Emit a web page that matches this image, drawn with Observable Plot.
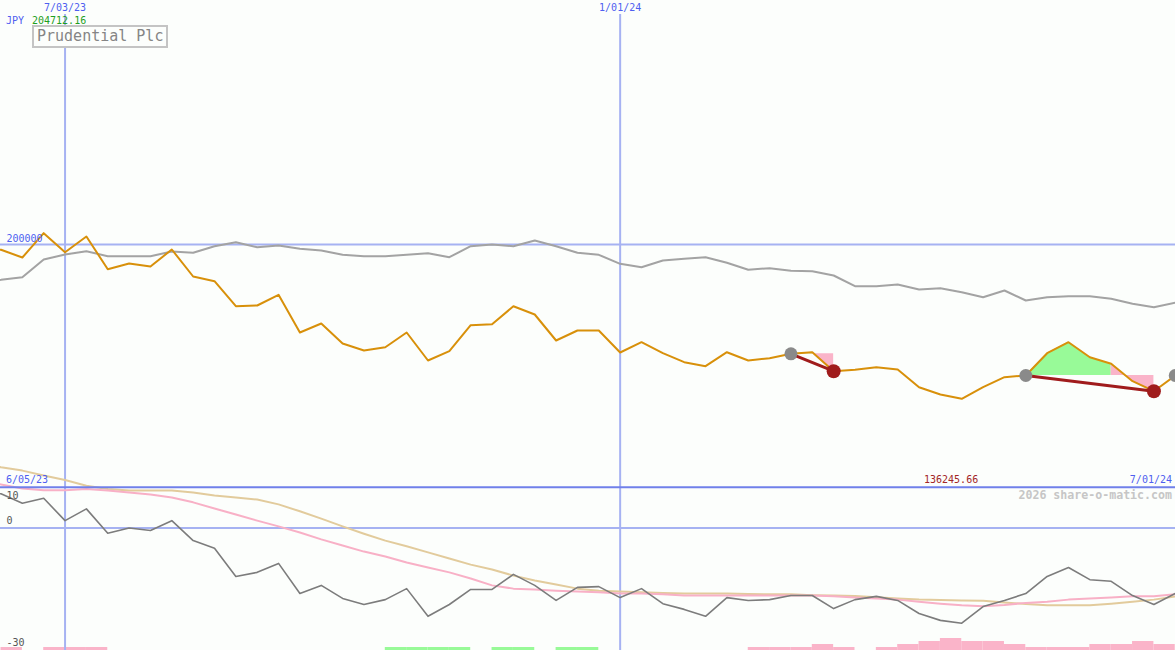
<!DOCTYPE html>
<html><head><meta charset="utf-8">
<script src="https://cdn.jsdelivr.net/npm/d3@7"></script>
<script src="https://cdn.jsdelivr.net/npm/@observablehq/plot@0.6"></script>
<style>
html,body{margin:0;padding:0;background:#fcfefc;}
#chart{position:relative;width:1175px;height:650px;overflow:hidden;background:#fcfefc;font-family:"DejaVu Sans Mono",monospace;}
#chart svg{position:absolute;left:0;top:0;overflow:hidden;}
.lbl{position:absolute;font-size:10px;line-height:12px;white-space:nowrap;}
</style></head><body><div id="chart"></div>
<script>
// ---- data (weekly, first week Monday 5 Jun 2023) ----
const firstWeek = "2023-06-05";
const price = [199207, 197843, 194659, 204712.16, 196850, 203341, 189823, 192179, 190939, 197967, 186805, 184862, 174527, 174816, 179240, 163654, 167375, 159107, 156213, 157577, 163654, 152079, 155924, 166672, 167086, 174527, 171096, 160347, 164481, 164481, 155386, 159644, 155097, 151376, 149723, 155510, 152079, 153030, 154849, 155510, 147656, 148235, 149309, 148359, 141041, 138024, 136245.66, 141041, 145175, 145878, 155097, 159644, 153443, 150715, 143522, 139388, 145878];
const compare = [184738, 185441, 186515, 193833, 195900, 197264, 195197, 195197, 195197, 197140, 196602, 199331, 200984, 198917, 199620, 198256, 197553, 195776, 195197, 195197, 195776, 196437, 194783, 199331, 200034, 199331, 201687, 199331, 196602, 195776, 192055, 190649, 193419, 194122, 194783, 192468, 189575, 190236, 189161, 188996, 187218, 182795, 182795, 183498, 181431, 181968, 180314, 178247, 181017, 176883, 178247, 178661, 178661, 177586, 175519, 174113, 175932];
const osc = [8.7, 8.4, 6.1, 7.3, 1.8, 4.7, -1.3, 0.0, -0.6, 1.8, -3.1, -5.0, -11.9, -10.9, -8.7, -16.1, -14.1, -17.3, -18.8, -17.6, -14.9, -21.7, -18.8, -15.1, -15.1, -11.4, -14.1, -17.8, -14.6, -14.4, -17.1, -14.9, -18.6, -20.0, -21.7, -17.1, -17.8, -17.6, -16.6, -16.6, -19.8, -17.6, -16.8, -17.8, -21.0, -22.7, -23.4, -19.3, -17.8, -16.1, -11.9, -9.7, -12.7, -13.1, -16.6, -18.8, -16.1];
const oscFast = [11.2, 10.7, 9.7, 9.3, 9.3, 9.6, 9.2, 8.7, 8.2, 7.5, 6.3, 4.8, 3.3, 1.8, 0.4, -1.1, -2.8, -4.3, -5.8, -7.0, -8.5, -9.7, -10.9, -12.4, -14.1, -14.9, -15.1, -15.4, -15.6, -15.8, -16.1, -16.1, -16.3, -16.6, -16.6, -16.6, -16.6, -16.6, -16.6, -16.6, -16.8, -17.1, -17.3, -17.6, -18.1, -18.6, -19.0, -19.2, -18.9, -18.4, -18.1, -17.6, -17.3, -17.1, -16.8, -16.8, -16.3];
const oscSlow = [16.1, 14.9, 14.1, 12.9, 11.8, 10.4, 9.6, 9.2, 9.2, 9.2, 8.7, 8.0, 7.5, 7.0, 5.8, 4.1, 2.3, 0.4, -1.4, -3.1, -4.5, -6.0, -7.5, -9.0, -10.2, -11.7, -12.9, -13.9, -14.9, -15.4, -15.6, -15.8, -16.0, -16.1, -16.1, -16.1, -16.2, -16.3, -16.3, -16.5, -16.6, -16.7, -17.0, -17.3, -17.6, -17.7, -17.8, -17.9, -18.3, -18.7, -19.0, -19.0, -19.0, -18.6, -18.1, -17.6, -16.8];
const barLevel = [0, -1, 0, -1, -1, -1, 0, 0, 0, 0, 0, 0, 0, 0, 0, 0, 0, 0, 0, 1, 1, 1, 1, 0, 1, 1, 0, 1, 1, 0, 0, 0, 0, 0, 0, 0, -1, -1, -1, -2, -1, 0, -1, -2, -3, -4, -3, -3, -2, -1, -1, -1, -2, -2, -3, -2, 0];

const gridDates = ["2023-07-03", "2024-01-01"];
const gridDateLabels = ["7/03/23", "1/01/24"];
const priceGrid = [200000];
const oscTicks = [10, 0, -30];

const tradeEntry = ["2024-02-26", "2024-05-13"];
const tradeExit = ["2024-03-11", "2024-06-24"];
const openEntry = ["2024-07-01"];
const fillFrom = ["2024-02-26", "2024-03-04", "2024-05-13", "2024-06-10"];
const fillTo = ["2024-03-04", "2024-03-11", "2024-06-10", "2024-06-24"];
const fillTrade = [0, 0, 1, 1];
const fillUp = [true, false, true, false];

const titleText = "Prudential Plc";
const currency = "JPY";
const maxLabel = "204712.16";
const minLabel = "136245.66";
const startLabel = "6/05/23";
const endLabel = "7/01/24";
const credit = "2026 share-o-matic.com";

// ---- build ----
const weeks = price.map((_, i) => d3.utcDay.offset(new Date(firstWeek), 7 * i));
const rows = weeks.map((d, i) => ({date: d, price: price[i], compare: compare[i], osc: osc[i], fast: oscFast[i], slow: oscSlow[i], bar: barLevel[i]}));
const byDate = new Map(rows.map(r => [+r.date, r]));
const D = s => new Date(s);

const W = 1175, H = 650;
const xScale = {type: "utc", domain: [new Date(Date.UTC(2023, 5, 11, 20)), new Date(Date.UTC(2024, 6, 1, 2))], axis: null};
const gridBlue = "#a6b2f2", darkBlue = "#7080ea", labelBlue = "#4f5ff0";
const pink = "#fab4c9", green = "#98fa98", red = "#a01c1c";
const mono = "DejaVu Sans Mono, monospace";

const fillMarks = fillFrom.map((f, i) => {
  const level = byDate.get(+D(tradeEntry[fillTrade[i]])).price;
  const seg = rows.filter(r => r.date >= D(f) && r.date <= D(fillTo[i]));
  return Plot.areaY(seg, {x: "date", y1: () => level, y2: "price", fill: fillUp[i] ? green : pink, curve: "linear"});
});
const tradeSegs = tradeEntry.map((e, i) => [byDate.get(+D(e)), byDate.get(+D(tradeExit[i]))]);

const pricePlot = Plot.plot({
  width: W, height: H, margin: 0,
  x: xScale,
  y: {domain: [32193, 300903], range: [H, 0], axis: null},
  style: {background: "transparent", overflow: "hidden"},
  marks: [
    Plot.ruleX(gridDates, {x: d => D(d), stroke: gridBlue, strokeWidth: 2, insetTop: 14}),
    Plot.ruleY(priceGrid, {y: d => d, stroke: gridBlue, strokeWidth: 2}),
    ...fillMarks,
    Plot.line(rows, {x: "date", y: "compare", stroke: "#a3a3a3", strokeWidth: 2}),
    Plot.line(rows, {x: "date", y: "price", stroke: "#d8900a", strokeWidth: 2}),
    ...tradeSegs.map(s => Plot.line(s, {x: "date", y: "price", stroke: red, strokeWidth: 3})),
    Plot.dot(tradeEntry.concat(openEntry).map(d => byDate.get(+D(d))), {x: "date", y: "price", r: 6.5, fill: "#8a8a8a"}),
    Plot.dot(tradeExit.map(d => byDate.get(+D(d))), {x: "date", y: "price", r: 7, fill: red}),
    Plot.text(gridDates, {x: d => D(d), frameAnchor: "top", lineAnchor: "top", dy: 3, text: (d, i) => gridDateLabels[i], fill: labelBlue, fontSize: 10, fontFamily: mono}),
    Plot.text(priceGrid, {y: d => d, frameAnchor: "left", dx: 6, dy: -6, text: d => String(d), textAnchor: "start", fill: labelBlue, fontSize: 10, fontFamily: mono})
  ]
});

const oscPlot = Plot.plot({
  width: W, height: H, margin: 0,
  x: xScale,
  y: {domain: [-30.1, 129.6], range: [H, 0], axis: null},
  style: {background: "transparent", overflow: "hidden"},
  marks: [
    Plot.ruleY([0], {stroke: gridBlue, strokeWidth: 2}),
    Plot.line(rows, {x: "date", y: "slow", stroke: "#e2cb9c", strokeWidth: 2}),
    Plot.line(rows, {x: "date", y: "fast", stroke: "#f8b0c6", strokeWidth: 2}),
    Plot.line(rows, {x: "date", y: "osc", stroke: "#7c7c7c", strokeWidth: 1.6}),
    Plot.ruleY([10], {stroke: darkBlue, strokeWidth: 2}),
    Plot.text([oscTicks[0]], {y: d => d, frameAnchor: "left", dx: 6, dy: 9, text: d => String(d), textAnchor: "start", fill: "#555", fontSize: 10, fontFamily: mono}),
    Plot.text(oscTicks.slice(1), {y: d => d, frameAnchor: "left", dx: 6, dy: -7, text: d => String(d), textAnchor: "start", fill: "#555", fontSize: 10, fontFamily: mono})
  ]
});

const barRows = rows.filter(r => r.bar !== 0);
const barPlot = Plot.plot({
  width: W, height: H, margin: 0,
  x: xScale,
  y: {domain: [0, 4], range: [H, H - 12], axis: null},
  style: {background: "transparent", overflow: "hidden"},
  marks: [
    Plot.rectY(barRows, {x1: "date", x2: r => d3.utcDay.offset(r.date, 7), y1: 0, y2: r => Math.abs(r.bar), fill: r => r.bar > 0 ? green : pink, inset: 0})
  ]
});

const chart = document.getElementById("chart");
chart.append(barPlot, pricePlot, oscPlot);

function label(text, css) {
  const s = document.createElement("span");
  s.className = "lbl";
  s.textContent = text;
  Object.assign(s.style, css);
  chart.append(s);
  return s;
}
label(currency, {left: "6px", top: "15px", color: labelBlue});
label(maxLabel, {left: "32px", top: "15px", color: "#1f9e1f"});
label(startLabel, {left: "6px", top: "474px", color: labelBlue});
label(endLabel, {right: "3px", top: "474px", color: labelBlue});
label(minLabel, {left: "924px", top: "474px", color: "#a32626"});
label(credit, {right: "3px", top: "489px", color: "#c6c6c6", fontWeight: "bold", fontSize: "11.6px"});
label(titleText, {left: "32px", top: "25px", color: "#858585", fontSize: "15px", lineHeight: "19px", border: "2px solid #c4c4c4", padding: "0 3px", background: "#fcfefc"});
</script></body></html>
